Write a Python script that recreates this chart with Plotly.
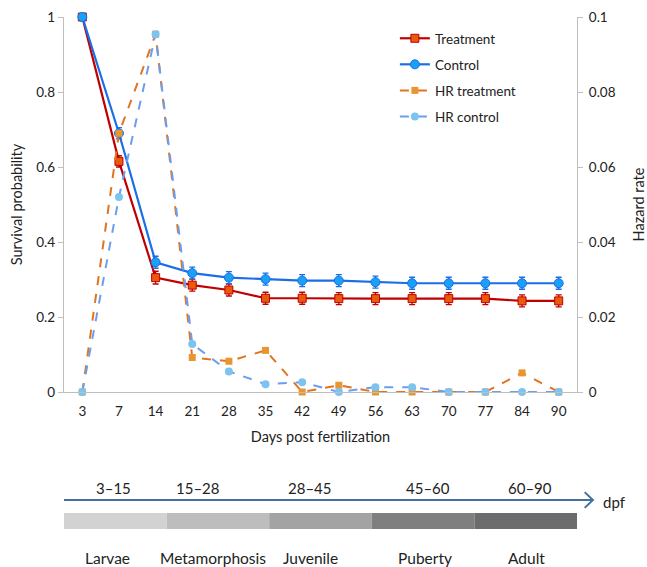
import plotly.graph_objects as go

days = ["3", "7", "14", "21", "28", "35", "42", "49", "56", "63", "70", "77", "84", "90"]

treatment = [1.0, 0.615, 0.305, 0.285, 0.272, 0.250, 0.250, 0.249, 0.249, 0.249, 0.249, 0.249, 0.243, 0.243]
treatment_err = [0, 0.015, 0.017, 0.016, 0.016, 0.016, 0.016, 0.016, 0.016, 0.016, 0.016, 0.016, 0.016, 0.016]
control = [1.0, 0.69, 0.346, 0.317, 0.305, 0.301, 0.297, 0.297, 0.293, 0.290, 0.290, 0.290, 0.290, 0.290]
control_err = [0, 0.015, 0.016, 0.016, 0.016, 0.016, 0.016, 0.016, 0.016, 0.016, 0.016, 0.016, 0.016, 0.016]
hr_treatment = [0.0, 0.069, 0.0954, 0.0092, 0.0082, 0.0111, 0.0, 0.0018, 0.0, 0.0, 0.0, 0.0, 0.0051, 0.0]
hr_control = [0.0, 0.052, 0.0954, 0.0128, 0.0055, 0.0021, 0.0026, 0.0, 0.0013, 0.0013, 0.0, 0.0, 0.0, 0.0]

stage_ranges = ["3–15", "15–28", "28–45", "45–60", "60–90"]
stage_names = ["Larvae", "Metamorphosis", "Juvenile", "Puberty", "Adult"]
stage_colors = ["#d2d2d2", "#bdbdbd", "#a3a3a3", "#7f7f7f", "#6c6c6c"]
range_label_x = [0.096, 0.262, 0.48, 0.71, 0.908]
name_label_x = [0.084, 0.29, 0.481, 0.703, 0.902]

FONT = "Lato"
TXT = "#222222"

fig = go.Figure()

fig.add_trace(go.Scatter(
    x=days, y=treatment, name="Treatment", mode="lines+markers",
    line=dict(color="#c00000", width=2.2),
    marker=dict(symbol="square", size=8, color="#e85a0c", line=dict(color="#c00000", width=1)),
    error_y=dict(type="data", array=treatment_err, color="#c00000", thickness=1.3, width=3),
    cliponaxis=False, legendgroup="a",
))
fig.add_trace(go.Scatter(
    x=days, y=control, name="Control", mode="lines+markers",
    line=dict(color="#1a6fe6", width=2.2),
    marker=dict(symbol="circle", size=9, color="#1aa0f5", line=dict(color="#1a6fe6", width=1)),
    error_y=dict(type="data", array=control_err, color="#1a6fe6", thickness=1.3, width=3),
    cliponaxis=False, legendgroup="b",
))
fig.add_trace(go.Scatter(
    x=days, y=hr_treatment, name="HR treatment", mode="lines+markers", yaxis="y2",
    line=dict(color="#e2731f", width=2, dash="dash"),
    marker=dict(symbol="square", size=7, color="#e8962f"),
    cliponaxis=False, legendgroup="c",
))
fig.add_trace(go.Scatter(
    x=days, y=hr_control, name="HR control", mode="lines+markers", yaxis="y2",
    line=dict(color="#6b9ef0", width=2, dash="dash"),
    marker=dict(symbol="circle", size=8, color="#7cc4ef"),
    cliponaxis=False, legendgroup="d",
))

shapes = []
annotations = []
n = len(stage_names)
bar_top, bar_bot = -0.3227, -0.3653
for i in range(n):
    shapes.append(dict(type="rect", xref="paper", yref="paper",
                       x0=i / n, x1=(i + 1) / n, y0=bar_bot, y1=bar_top,
                       fillcolor=stage_colors[i], line=dict(width=0), layer="above"))
    annotations.append(dict(xref="paper", yref="paper", x=range_label_x[i], y=-0.256,
                            xanchor="center", yanchor="middle",
                            text=stage_ranges[i], showarrow=False,
                            font=dict(family=FONT, size=15, color=TXT)))
    annotations.append(dict(xref="paper", yref="paper", x=name_label_x[i], y=-0.443,
                            xanchor="center", yanchor="middle",
                            text=stage_names[i], showarrow=False,
                            font=dict(family=FONT, size=15.5, color=TXT)))

# timeline arrow
ay = -0.288
tip = 1.031
shapes.append(dict(type="line", xref="paper", yref="paper", x0=0, x1=tip, y0=ay, y1=ay,
                   line=dict(color="#41719c", width=2)))
shapes.append(dict(type="path", xref="paper", yref="paper",
                   path=f"M {tip-0.016},{ay+0.021} L {tip},{ay} L {tip-0.016},{ay-0.021}",
                   line=dict(color="#41719c", width=2)))
annotations.append(dict(xref="paper", yref="paper", x=1.074, y=-0.293, text="dpf",
                        xanchor="center", yanchor="middle",
                        showarrow=False, font=dict(family=FONT, size=15, color=TXT)))

fig.update_layout(
    width=647, height=567,
    margin=dict(l=64, r=70, t=17, b=175, autoexpand=False),
    paper_bgcolor="white", plot_bgcolor="white",
    font=dict(family=FONT, size=13, color=TXT),
    showlegend=True,
    legend=dict(x=0.645, y=0.984, xanchor="left", yanchor="top",
                bgcolor="rgba(0,0,0,0)", font=dict(size=13.5, family=FONT, color=TXT),
                tracegroupgap=5.5),
    xaxis=dict(type="category", range=[-0.5, 13.5], showline=True, linecolor="#bfbfbf", linewidth=1.3,
               ticks="", showgrid=False, zeroline=False, ticklabelstandoff=7,
               tickfont=dict(size=13.5),
               title=dict(text="Days post fertilization", font=dict(size=14.5), standoff=13)),
    yaxis=dict(range=[0, 1], dtick=0.2, showline=True, linecolor="#bfbfbf", linewidth=1.3,
               ticks="outside", ticklen=5, tickcolor="#bfbfbf", showgrid=False, zeroline=False,
               tickfont=dict(size=13.5),
               title=dict(text="Survival probability", font=dict(size=14.5), standoff=10)),
    yaxis2=dict(range=[0, 0.1], dtick=0.02, overlaying="y", side="right",
                showline=True, linecolor="#bfbfbf", linewidth=1.3,
                ticks="outside", ticklen=5, tickcolor="#bfbfbf", showgrid=False, zeroline=False,
                ticklabelstandoff=3, tickfont=dict(size=13.5),
                title=dict(text="Hazard rate", font=dict(size=14.5), standoff=20)),
    shapes=shapes,
    annotations=annotations,
)

fig.write_html("out.html", config={"displayModeBar": False},
               post_script="document.body.style.margin='0px';")
